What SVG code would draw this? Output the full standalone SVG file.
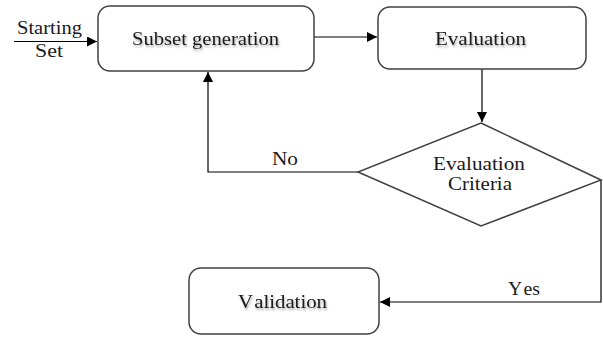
<svg xmlns="http://www.w3.org/2000/svg" width="603" height="340" viewBox="0 0 603 340">
<defs>
<marker id="arr" viewBox="0 0 10 10" refX="10" refY="5" markerWidth="10" markerHeight="10" markerUnits="userSpaceOnUse" orient="auto">
<path d="M0,0 L10,5 L0,10 z" fill="#000"/>
</marker>
<filter id="sh" x="-10%" y="-20%" width="130%" height="160%">
<feGaussianBlur in="SourceAlpha" stdDeviation="1.2"/>
<feOffset dx="1" dy="1.5" result="b"/>
<feComponentTransfer><feFuncA type="linear" slope="0.35"/></feComponentTransfer>
<feMerge><feMergeNode/><feMergeNode in="SourceGraphic"/></feMerge>
</filter>
</defs>
<style>
.box{fill:#fff;stroke:#404040;stroke-width:1.5}
.ln{fill:none;stroke:#000;stroke-width:1.2}
text{font-family:"Liberation Serif","Times New Roman",serif;font-size:18px;fill:#1a1a1a;text-anchor:middle}
.t{filter:url(#sh)}
</style>
<rect width="603" height="340" fill="#fff"/>
<g id="connectors">
<line class="ln" x1="14" y1="41.5" x2="97" y2="41.5" marker-end="url(#arr)"/>
<line class="ln" x1="314" y1="37" x2="377" y2="37" marker-end="url(#arr)"/>
<line class="ln" x1="482" y1="69" x2="482" y2="122" marker-end="url(#arr)"/>
<polyline class="ln" points="358,172 208,172 208,72" marker-end="url(#arr)"/>
<polyline class="ln" points="601,180 601,302 380,302" marker-end="url(#arr)"/>
<text x="285" y="165" textLength="26" lengthAdjust="spacingAndGlyphs">No</text>
<text x="524" y="295" textLength="32" lengthAdjust="spacingAndGlyphs">Y<tspan dx="3">es</tspan></text>
<text x="49.5" y="34" textLength="65" lengthAdjust="spacingAndGlyphs">Starting</text>
<text x="49" y="57" textLength="28" lengthAdjust="spacingAndGlyphs">Set</text>
</g>
<g id="subset">
<rect class="box" x="98" y="6" width="216" height="65" rx="12"/>
<text class="t" x="205.5" y="45" textLength="147" lengthAdjust="spacingAndGlyphs">Subset generation</text>
</g>
<g id="evaluation">
<rect class="box" x="378" y="7" width="208" height="62" rx="12"/>
<text class="t" x="480.5" y="45" textLength="91" lengthAdjust="spacingAndGlyphs">Evaluation</text>
</g>
<g id="criteria">
<polygon class="box" points="481,123 601,180 481,226 358,172"/>
<text x="479" y="170" textLength="92" lengthAdjust="spacingAndGlyphs">Evaluation</text>
<text x="480" y="190" textLength="64" lengthAdjust="spacingAndGlyphs">Criteria</text>
</g>
<g id="validation">
<rect class="box" x="189" y="268" width="190" height="66" rx="12"/>
<text class="t" x="282.5" y="308" textLength="89" lengthAdjust="spacingAndGlyphs">V<tspan dx="3">alidation</tspan></text>
</g>
</svg>
